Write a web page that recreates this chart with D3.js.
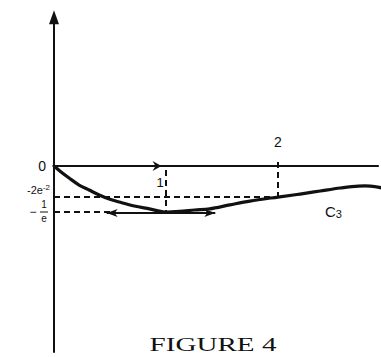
<!DOCTYPE html>
<html lang="en">
  <head>
    <meta charset="UTF-8" />
    <title>Figure 4</title>
    <script src="https://d3js.org/d3.v7.min.js"></script>
    <style>
      body { margin: 0; background: #fff; }
      text { font-family: "Liberation Sans", Arial, sans-serif; fill: #111; }
    </style>
  </head>
  <body>
    <svg id="fig" width="381" height="357"></svg>
    <script>
      // curve C3, values (x, y in math units)
      const curveX = [0, 0.063, 0.135, 0.224, 0.314, 0.404, 0.493, 0.583, 0.717, 0.852,
                      0.99, 1.121, 1.256, 1.39, 1.57, 1.749, 2.0, 2.197, 2.377, 2.556,
                      2.717, 2.825, 2.93];
      const curveY = [0, -0.052, -0.105, -0.166, -0.21, -0.253, -0.284, -0.303, -0.329, -0.348,
                      -0.368, -0.364, -0.355, -0.348, -0.322, -0.297, -0.271, -0.245, -0.218, -0.192,
                      -0.175, -0.175, -0.192];
      const yMarks = [0, -0.2707, -0.3679];   // 0, -2e^-2, -1/e
      const xMarks = [1, 2];

      const svg = d3.select("svg#fig");
      const ink = "#111";

      const sx = d3.scaleLinear().domain([0, 2]).range([54, 278]);
      // scanned figure is not to scale, so the y scale is piecewise
      const sy = d3.scaleLinear().domain(yMarks).range([166, 197, 212]);

      // dashed guides
      const dash = "6,4";
      svg.append("line")
        .attr("x1", sx(0)).attr("x2", sx(2))
        .attr("y1", sy(yMarks[1])).attr("y2", sy(yMarks[1]))
        .attr("stroke", ink).attr("stroke-width", 2).attr("stroke-dasharray", dash);
      svg.append("line")
        .attr("x1", sx(0)).attr("x2", sx(0.5))
        .attr("y1", sy(yMarks[2])).attr("y2", sy(yMarks[2]))
        .attr("stroke", ink).attr("stroke-width", 2).attr("stroke-dasharray", dash);
      svg.append("line")
        .attr("x1", sx(xMarks[0])).attr("x2", sx(xMarks[0]))
        .attr("y1", sy(0) + 4).attr("y2", sy(yMarks[2]))
        .attr("stroke", ink).attr("stroke-width", 2).attr("stroke-dasharray", dash);
      svg.append("line")
        .attr("x1", sx(xMarks[1])).attr("x2", sx(xMarks[1]))
        .attr("y1", sy(0) - 4).attr("y2", sy(yMarks[1]))
        .attr("stroke", ink).attr("stroke-width", 2).attr("stroke-dasharray", dash);

      // axes
      svg.append("line")
        .attr("x1", sx(0)).attr("x2", sx(2.9))
        .attr("y1", sy(0)).attr("y2", sy(0))
        .attr("stroke", ink).attr("stroke-width", 2);
      svg.append("line")
        .attr("x1", sx(0)).attr("x2", sx(0))
        .attr("y1", sy(1.25)).attr("y2", sy(-1.28))
        .attr("stroke", ink).attr("stroke-width", 2);
      const yTop = sy(1.36);
      svg.append("path")
        .attr("d", `M${sx(0)},${yTop} L${sx(0) - 5},${yTop + 14} L${sx(0) + 5},${yTop + 14} Z`)
        .attr("fill", ink);

      // little arrow on the x axis near x = 1
      const ax = sx(0.96), ay = sy(0);
      svg.append("path")
        .attr("d", `M${ax},${ay} L${ax - 9},${ay - 5} L${ax - 6},${ay} L${ax - 9},${ay + 5} Z`)
        .attr("fill", ink);

      // horizontal tangent at the minimum
      const ty = sy(yMarks[2]) + 1;
      const tl = sx(0.47), tr = sx(1.44);
      svg.append("line")
        .attr("x1", tl).attr("x2", tr).attr("y1", ty).attr("y2", ty)
        .attr("stroke", ink).attr("stroke-width", 2);
      svg.append("path")
        .attr("d", `M${tl},${ty} L${tl + 11},${ty - 4} L${tl + 8},${ty} L${tl + 11},${ty + 4} Z`)
        .attr("fill", ink);
      svg.append("path")
        .attr("d", `M${tr},${ty} L${tr - 11},${ty - 4} L${tr - 8},${ty} L${tr - 11},${ty + 4} Z`)
        .attr("fill", ink);

      // the curve
      const line = d3.line()
        .x((d, i) => sx(curveX[i]))
        .y(d => sy(d))
        .curve(d3.curveCatmullRom);
      svg.append("path")
        .datum(curveY)
        .attr("fill", "none")
        .attr("stroke", ink)
        .attr("stroke-width", 3.2)
        .attr("stroke-linecap", "round")
        .attr("d", line);

      // labels
      svg.append("text")
        .attr("x", sx(0) - 8).attr("y", sy(0) + 5)
        .attr("text-anchor", "end").style("font-size", "14px").text("0");
      svg.append("text")
        .attr("x", sx(xMarks[0]) - 6).attr("y", sy(0) + 21)
        .attr("text-anchor", "middle").style("font-size", "13px").text("1");
      svg.append("text")
        .attr("x", sx(xMarks[1])).attr("y", sy(0) - 19)
        .attr("text-anchor", "middle").style("font-size", "14px").text("2");

      const lab2 = svg.append("text")
        .attr("x", sx(0) - 4).attr("y", sy(yMarks[1]) - 3)
        .attr("text-anchor", "end").style("font-size", "11px");
      lab2.append("tspan").text("-2e");
      lab2.append("tspan").attr("dy", -4).style("font-size", "8px").text("-2");

      const yE = sy(yMarks[2]);
      svg.append("text")
        .attr("x", 33).attr("y", yE + 4)
        .attr("text-anchor", "middle").style("font-size", "12px").text("−");
      svg.append("text")
        .attr("x", 44).attr("y", yE - 4)
        .attr("text-anchor", "middle").style("font-size", "10px").text("1");
      svg.append("line")
        .attr("x1", 40).attr("x2", 48).attr("y1", yE).attr("y2", yE)
        .attr("stroke", ink).attr("stroke-width", 1);
      svg.append("text")
        .attr("x", 44).attr("y", yE + 10)
        .attr("text-anchor", "middle").style("font-size", "10px").text("e");

      const c3 = svg.append("text")
        .attr("x", 325).attr("y", 217).style("font-size", "15px");
      c3.append("tspan").text("C");
      c3.append("tspan").attr("dy", 1).style("font-size", "11px").text("3");

      svg.append("text")
        .attr("x", 213).attr("y", 351)
        .attr("text-anchor", "middle")
        .attr("textLength", 127)
        .attr("lengthAdjust", "spacingAndGlyphs")
        .style("font-family", "'Liberation Serif', 'Times New Roman', serif")
        .style("font-size", "18px")
        .text("FIGURE 4");
    </script>
  </body>
</html>
